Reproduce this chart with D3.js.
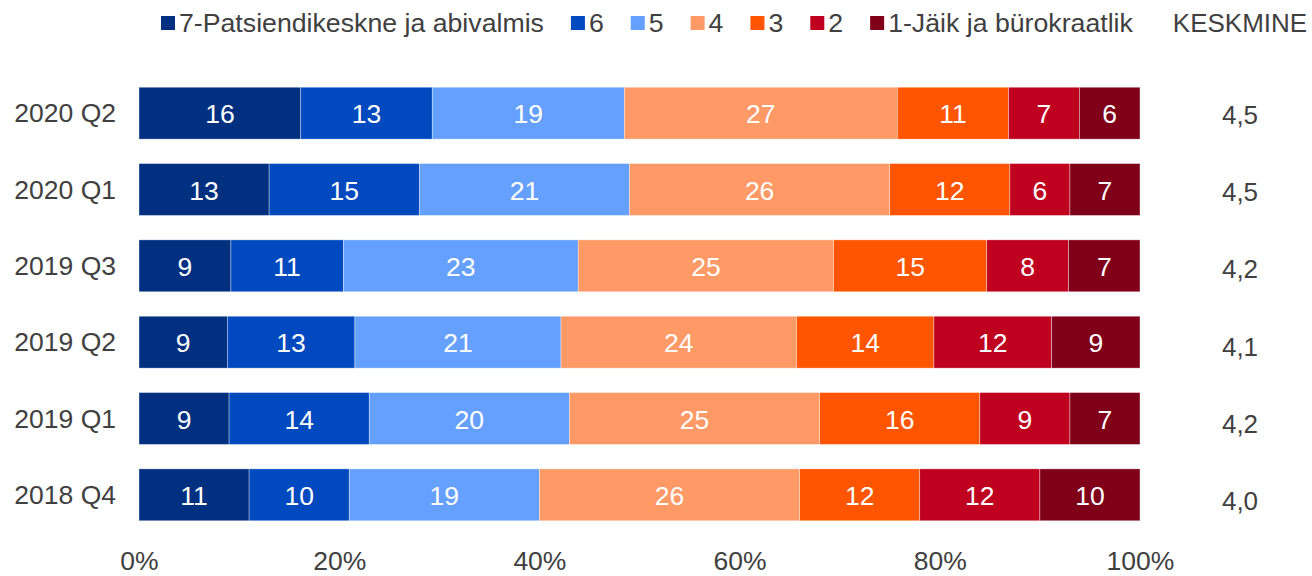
<!DOCTYPE html>
<html>
<head>
<meta charset="utf-8">
<script src="https://cdn.jsdelivr.net/npm/d3@7"></script>
<style>
  body { margin: 0; background: #fff; }
  text { font-family: "Liberation Sans", Arial, sans-serif; }
</style>
</head>
<body>
<div id="chart"></div>
<script>
const categories = ['2020 Q2', '2020 Q1', '2019 Q3', '2019 Q2', '2019 Q1', '2018 Q4'];
const seriesNames = ['7-Patsiendikeskne ja abivalmis', '6', '5', '4', '3', '2', '1-Jäik ja bürokraatlik'];
const seriesKeys = ['s7', 's6', 's5', 's4', 's3', 's2', 's1'];
const s7 = [16, 13, 9, 9, 9, 11];
const s6 = [13, 15, 11, 13, 14, 10];
const s5 = [19, 21, 23, 21, 20, 19];
const s4 = [27, 26, 25, 24, 25, 26];
const s3 = [11, 12, 15, 14, 16, 12];
const s2 = [7, 6, 8, 12, 9, 12];
const s1 = [6, 7, 7, 9, 7, 10];
const averages = ['4,5', '4,5', '4,2', '4,1', '4,2', '4,0'];
const xTicks = [0, 0.2, 0.4, 0.6, 0.8, 1];
const colors = ['#00307f', '#0049bf', '#66a0ff', '#ff9966', '#ff5500', '#bf001f', '#80001a'];

const width = 1312, height = 576;
const svg = d3.select('#chart').append('svg')
    .attr('width', width)
    .attr('height', height);

// build rows for the stack
const seriesVals = [s7, s6, s5, s4, s3, s2, s1];
const rows = categories.map((c, i) => {
    const r = {cat: c};
    seriesKeys.forEach((k, j) => r[k] = seriesVals[j][i]);
    return r;
});

const stacked = d3.stack()
    .keys(seriesKeys)
    .offset(d3.stackOffsetExpand)(rows);

const x = d3.scaleLinear().domain([0, 1]).range([139, 1140]);
const y = d3.scaleBand().domain(categories).range([75, 533]).paddingInner(0.32).paddingOuter(0.16);
const yAvg = d3.scalePoint().domain(categories).range([115, 501]);
const color = d3.scaleOrdinal().domain(seriesKeys).range(colors);

const textColor = '#404040';
const fontSize = '26.5px';

// bars
const groups = svg.selectAll('.series')
    .data(stacked)
    .enter()
    .append('g')
    .attr('class', 'series')
    .attr('fill', d => color(d.key));

groups.selectAll('rect')
    .data(d => d)
    .enter()
    .append('rect')
    .attr('x', d => x(d[0]))
    .attr('y', d => y(d.data.cat))
    .attr('width', d => x(d[1]) - x(d[0]))
    .attr('height', y.bandwidth())
    .attr('stroke', 'rgba(255,255,255,0.6)')
    .attr('stroke-width', 0.6);

// value labels
groups.selectAll('text')
    .data(d => d.map(v => ({v: v, key: d.key})))
    .enter()
    .append('text')
    .attr('x', d => (x(d.v[0]) + x(d.v[1])) / 2)
    .attr('y', d => y(d.v.data.cat) + y.bandwidth() / 2 + 1)
    .attr('text-anchor', 'middle')
    .attr('dominant-baseline', 'central')
    .attr('fill', '#fff')
    .style('font-size', fontSize)
    .text(d => d.v.data[d.key]);

// category axis
const yAxis = svg.append('g')
    .attr('transform', 'translate(116,0)')
    .call(d3.axisLeft(y).tickSize(0).tickPadding(0));
yAxis.select('.domain').remove();
yAxis.selectAll('text')
    .attr('fill', textColor)
    .attr('dy', null)
    .attr('dominant-baseline', 'central')
    .style('font-size', fontSize)
    .style('font-family', '"Liberation Sans", Arial, sans-serif');

// percent axis
const xAxis = svg.append('g')
    .attr('transform', 'translate(0,561)')
    .call(d3.axisBottom(x).tickValues(xTicks).tickFormat(d3.format('.0%')).tickSize(0).tickPadding(0));
xAxis.select('.domain').remove();
xAxis.selectAll('text')
    .attr('fill', textColor)
    .attr('dy', null)
    .attr('y', 0)
    .attr('dominant-baseline', 'central')
    .style('font-size', fontSize)
    .style('font-family', '"Liberation Sans", Arial, sans-serif');

// average column
svg.append('text')
    .attr('x', 1240)
    .attr('y', 23)
    .attr('text-anchor', 'middle')
    .attr('dominant-baseline', 'central')
    .attr('fill', textColor)
    .style('font-size', '26px')
    .text('KESKMINE');

svg.selectAll('.avg')
    .data(categories)
    .enter()
    .append('text')
    .attr('class', 'avg')
    .attr('x', 1240)
    .attr('y', (d, i) => yAvg(d))
    .attr('text-anchor', 'middle')
    .attr('dominant-baseline', 'central')
    .attr('fill', textColor)
    .style('font-size', '26px')
    .text((d, i) => averages[i]);

// legend
const legend = svg.append('g').attr('class', 'legend');
let lx = 161;
seriesNames.forEach((name, i) => {
    legend.append('rect')
        .attr('x', lx)
        .attr('y', 16)
        .attr('width', 14)
        .attr('height', 14)
        .attr('fill', colors[i]);
    const t = legend.append('text')
        .attr('x', lx + 18)
        .attr('y', 23)
        .attr('dominant-baseline', 'central')
        .attr('fill', textColor)
        .style('font-size', '26.7px')
        .text(name);
    lx = lx + 18 + t.node().getComputedTextLength() + 27;
});
</script>
</body>
</html>
